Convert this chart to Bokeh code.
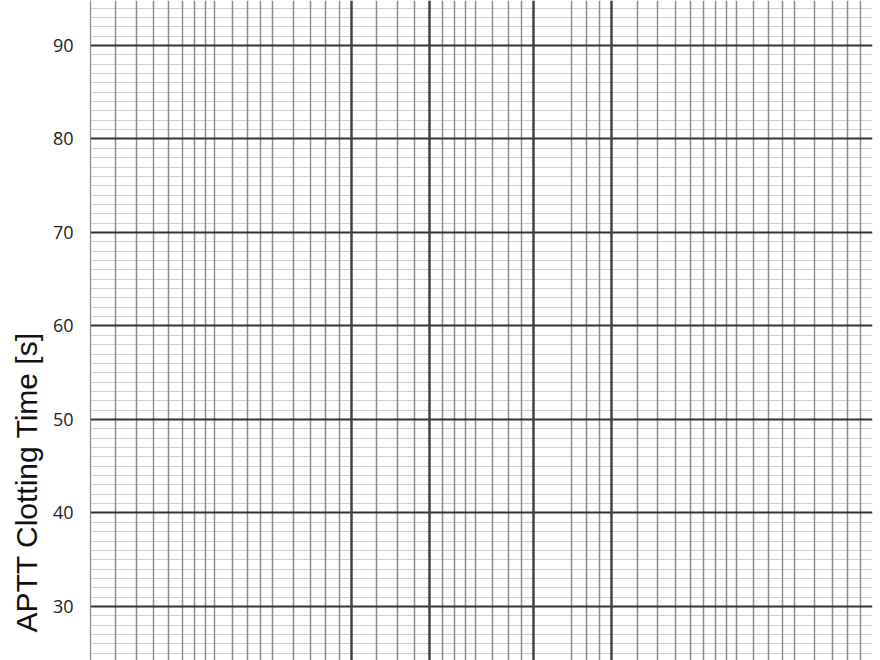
from bokeh.plotting import figure
from bokeh.models import Range1d, FixedTicker, Grid, Title
from bokeh.embed import file_html
from bokeh.resources import INLINE

# ---- data: graph-paper rulings -------------------------------------------
y_major = [30, 40, 50, 60, 70, 80, 90]
y_minor = [v for v in range(25, 95) if v % 10 != 0]

x_major = [10, 20, 50, 100]
x_minor = [1.25, 1.5, 1.75, 2, 2.25, 2.5, 2.75, 3, 3.5, 4, 4.5, 5, 6, 7, 8, 9,
           12.5, 15, 17.5, 22.5, 25, 27.5, 30, 35, 40, 45, 70, 80, 90,
           125, 150, 175, 200, 225, 250, 275, 300, 350, 400, 450, 500,
           600, 700, 800, 900, 1000]

x_start, x_end = 1, 1000
y_start, y_end = 24.22, 94.81

y_title = "APTT Clotting Time [s]"

# ---- figure ---------------------------------------------------------------
p = figure(width=876, height=660, output_backend="svg", toolbar_location=None,
           x_range=Range1d(x_start, x_end), y_range=Range1d(y_start, y_end),
           x_axis_type="log", x_axis_location=None, y_axis_location="left",
           min_border_left=90, min_border_right=4, min_border_top=0,
           min_border_bottom=0)
p.outline_line_color = None
p.background_fill_color = "white"
p.border_fill_color = "white"
p.grid.visible = False

def add_grid(dim, ticks, color, width):
    g = Grid(dimension=dim, ticker=FixedTicker(ticks=ticks),
             grid_line_color=color, grid_line_width=width)
    p.add_layout(g, "center")

add_grid(1, y_minor, "#cfcfcf", 1.2)
add_grid(0, x_minor, "#8c8c8c", 1.5)
add_grid(1, y_major, "#333333", 2.2)
add_grid(0, x_major, "#444444", 2.5)

ax = p.yaxis[0]
ax.ticker = FixedTicker(ticks=y_major, minor_ticks=[])
ax.major_tick_out = 0
ax.major_tick_in = 0
ax.minor_tick_out = 0
ax.minor_tick_in = 0
ax.axis_line_color = "#8c8c8c"
ax.axis_line_width = 1.2
ax.major_label_text_font = "Open Sans"
ax.major_label_text_font_size = "18px"
ax.major_label_text_color = "#222222"
ax.major_label_standoff = 17

t = Title(text=y_title, align="left", offset=28, text_font="Liberation Sans",
          text_font_size="30px", text_font_style="normal",
          text_color="#111111", standoff=14)
p.add_layout(t, "left")

open("out.html", "w").write(file_html(p, INLINE))
